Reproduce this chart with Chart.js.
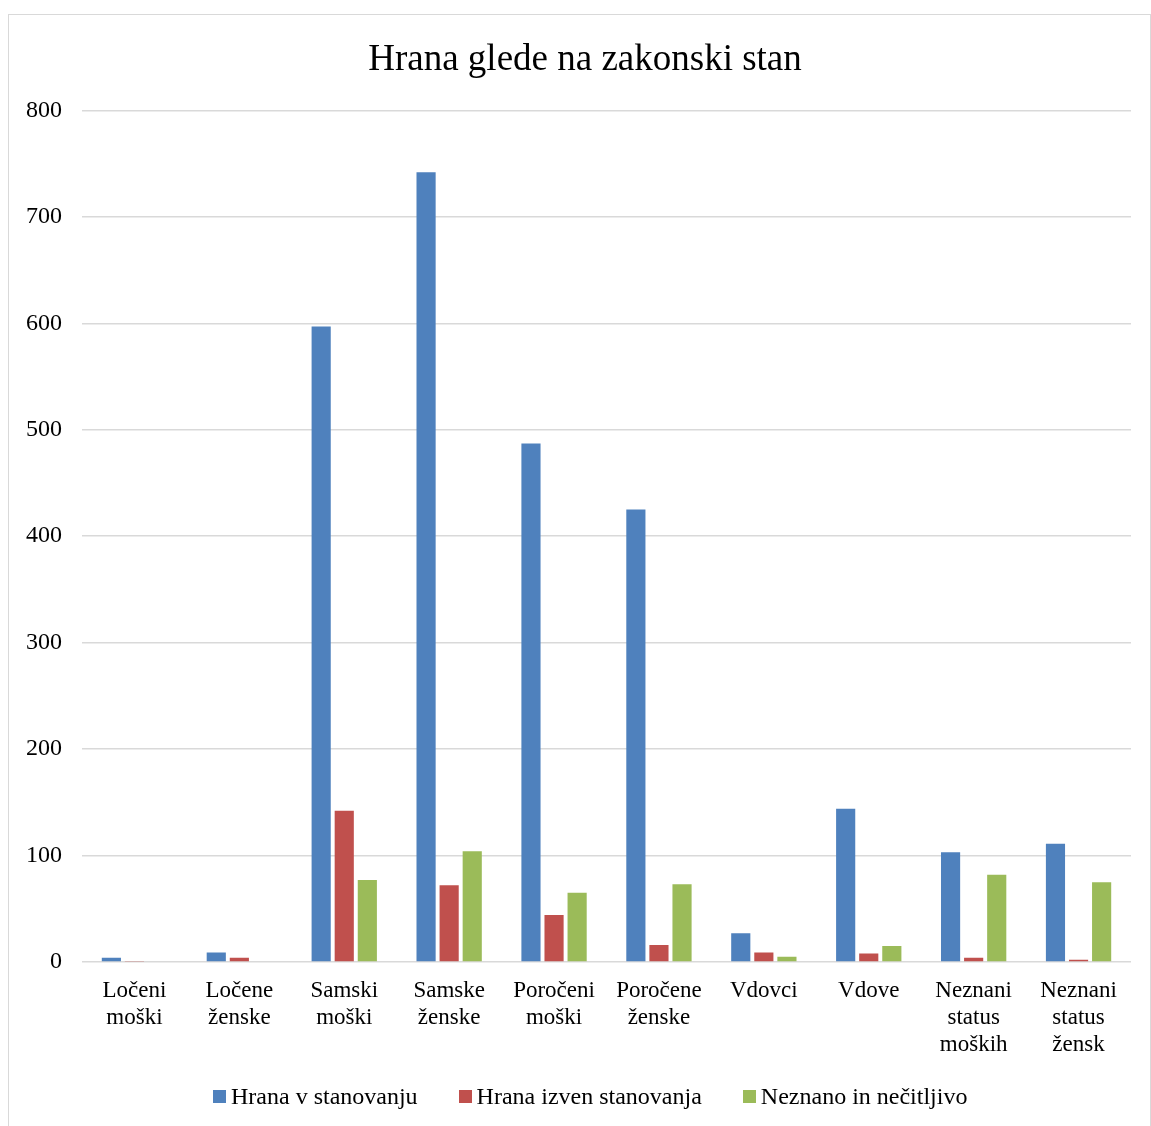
<!DOCTYPE html>
<html lang="sl">
<head>
    <meta charset="UTF-8">
    <title>Hrana glede na zakonski stan</title>
    <script src="https://cdn.jsdelivr.net/npm/chart.js"></script>
    <style>
        body { margin: 0; background: #fff; overflow: hidden; font-family: 'Liberation Serif', 'Times New Roman', serif; }
        .frame { position: absolute; left: 8px; top: 14px; width: 1141px; height: 1130px; border: 1px solid #d9d9d9; }
        .chart-box { position: absolute; left: 0; top: 0; width: 1151px; height: 1126px; }
        #legend { position: absolute; left: 213px; top: 1080px; display: flex; align-items: center; gap: 41px; font-size: 24px; line-height: 32px; color: #000; }
        #legend .item { display: flex; align-items: center; white-space: nowrap; }
        #legend .box { width: 13px; height: 13px; margin-right: 5px; }
    </style>
</head>
<body>
    <div class="frame"></div>
    <div class="chart-box">
        <canvas id="foodChart"></canvas>
    </div>
    <div id="legend"></div>

    <script>
        const categories = [
            ["Ločeni", "moški"], ["Ločene", "ženske"], ["Samski", "moški"], ["Samske", "ženske"],
            ["Poročeni", "moški"], ["Poročene", "ženske"], ["Vdovci"], ["Vdove"],
            ["Neznani", "status", "moških"], ["Neznani", "status", "žensk"]
        ];
        const hranaDoma = [4, 9, 597, 742, 487, 425, 27, 144, 103, 111];
        const hranaZunaj = [1, 4, 142, 72, 44, 16, 9, 8, 4, 2];
        const neznano = [0, 0, 77, 104, 65, 73, 5, 15, 82, 75];
        const yTicks = [0, 100, 200, 300, 400, 500, 600, 700, 800];

        const serif = "'Liberation Serif', 'Times New Roman', serif";

        // title is centred a bit right of the canvas middle in the original
        const titleNudge = {
            id: "titleNudge",
            afterLayout(chart) { chart.titleBlock.left += 33; }
        };

        const chart = new Chart(document.getElementById("foodChart"), {
            type: "bar",
            data: {
                labels: categories,
                datasets: [
                    { label: "Hrana v stanovanju", data: hranaDoma, backgroundColor: "#4F81BD" },
                    { label: "Hrana izven stanovanja", data: hranaZunaj, backgroundColor: "#C0504D" },
                    { label: "Neznano in nečitljivo", data: neznano, backgroundColor: "#9BBB59" }
                ]
            },
            options: {
                responsive: true,
                maintainAspectRatio: false,
                animation: false,
                datasets: { bar: { categoryPercentage: 0.66, barPercentage: 0.83 } },
                layout: { padding: { left: 6, right: 20, top: 20, bottom: 60 } },
                plugins: {
                    title: {
                        display: true,
                        text: "Hrana glede na zakonski stan",
                        color: "#000",
                        font: { family: serif, size: 37, weight: "normal" },
                        padding: { top: 18, bottom: 28 }
                    },
                    legend: { display: false },
                    tooltip: { enabled: false }
                },
                scales: {
                    x: {
                        grid: { display: false },
                        border: { display: false },
                        ticks: {
                            color: "#000",
                            font: { family: serif, size: 23, lineHeight: 1.16 },
                            padding: 8,
                            maxRotation: 0,
                            autoSkip: false
                        }
                    },
                    y: {
                        min: 0,
                        max: 800,
                        afterBuildTicks: axis => { axis.ticks = yTicks.map(v => ({ value: v })); },
                        grid: { color: "#d9d9d9", lineWidth: 1.5, drawTicks: false },
                        border: { display: false },
                        ticks: {
                            color: "#000",
                            font: { family: serif, size: 24 },
                            padding: 20
                        }
                    }
                }
            },
            plugins: [titleNudge]
        });

        // legend built from the datasets
        const legend = document.getElementById("legend");
        chart.data.datasets.forEach(ds => {
            const item = document.createElement("div");
            item.className = "item";
            const box = document.createElement("span");
            box.className = "box";
            box.style.background = ds.backgroundColor;
            item.appendChild(box);
            item.appendChild(document.createTextNode(ds.label));
            legend.appendChild(item);
        });
    </script>
</body>
</html>
